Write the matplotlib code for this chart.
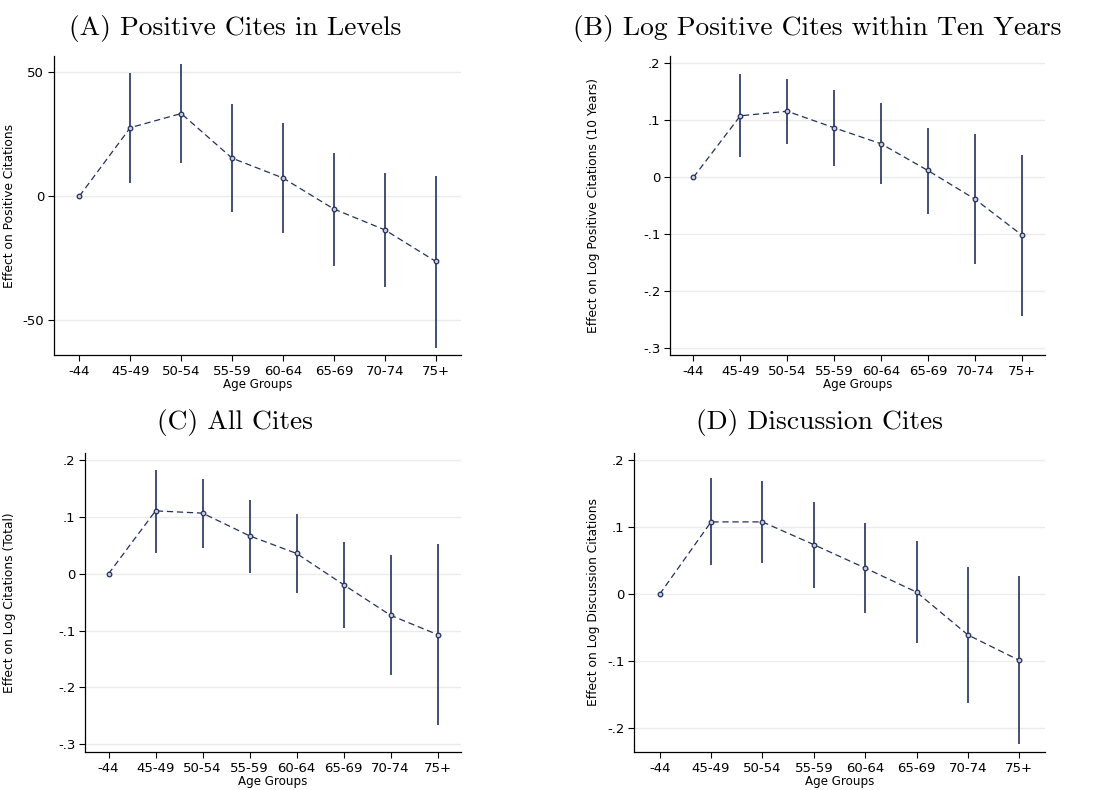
import numpy as np
import matplotlib
matplotlib.use("Agg")
import matplotlib.pyplot as plt

# age groups on the x axis
groups = ["-44", "45-49", "50-54", "55-59", "60-64", "65-69", "70-74", "75+"]

# (A) positive cites in levels: estimate, lower and upper CI
est_a = [0, 27.6, 33.3, 15.3, 7.3, -5.2, -13.6, -26.3]
lo_a = [0, 5.4, 13.4, -6.5, -14.8, -28.1, -36.6, -61.2]
hi_a = [0, 49.5, 53.4, 37.0, 29.4, 17.5, 9.3, 8.3]

# (B) log positive cites within ten years
est_b = [0, 0.108, 0.116, 0.087, 0.059, 0.012, -0.038, -0.101]
lo_b = [0, 0.035, 0.059, 0.019, -0.012, -0.065, -0.153, -0.243]
hi_b = [0, 0.181, 0.173, 0.154, 0.130, 0.087, 0.076, 0.039]

# (C) all cites
est_c = [0, 0.111, 0.107, 0.067, 0.036, -0.019, -0.073, -0.107]
lo_c = [0, 0.0375, 0.046, 0.002, -0.034, -0.095, -0.179, -0.267]
hi_c = [0, 0.183, 0.168, 0.131, 0.106, 0.057, 0.033, 0.053]

# (D) discussion cites
est_d = [0, 0.108, 0.108, 0.074, 0.039, 0.003, -0.061, -0.099]
lo_d = [0, 0.043, 0.047, 0.009, -0.028, -0.073, -0.163, -0.224]
hi_d = [0, 0.174, 0.169, 0.137, 0.106, 0.079, 0.041, 0.027]

ticks_a = [-50, 0, 50]
labels_a = ["-50", "0", "50"]
ticks_log = [-0.3, -0.2, -0.1, 0, 0.1, 0.2]
labels_log = ["-.3", "-.2", "-.1", "0", ".1", ".2"]
ticks_d = [-0.2, -0.1, 0, 0.1, 0.2]
labels_d = ["-.2", "-.1", "0", ".1", ".2"]

W, H = 1094, 790
navy = '#22315f'

fig = plt.figure(figsize=(W / 100, H / 100), dpi=100, facecolor='w')

def add_axes(left, top, right, bottom):
    return fig.add_axes([left / W, 1 - bottom / H, (right - left) / W, (bottom - top) / H])

panels = [
    # title, title x, title y, axes box (px), label x, data, ticks, ylim, ylabel
    ("(A) Positive Cites in Levels", 235, 28, (54, 56, 461, 355), 16,
     (est_a, lo_a, hi_a), (ticks_a, labels_a), (-64.1, 56.5),
     "Effect on Positive Citations"),
    ("(B) Log Positive Cites within Ten Years", 817, 28, (670, 56, 1045, 355), 600,
     (est_b, lo_b, hi_b), (ticks_log, labels_log), (-0.312, 0.213),
     "Effect on Log Positive Citations (10 Years)"),
    ("(C) All Cites", 235, 423, (85, 453, 461, 752), 16,
     (est_c, lo_c, hi_c), (ticks_log, labels_log), (-0.314, 0.213),
     "Effect on Log Citations (Total)"),
    ("(D) Discussion Cites", 819, 423, (634, 453, 1045, 752), 600,
     (est_d, lo_d, hi_d), (ticks_d, labels_d), (-0.236, 0.211),
     "Effect on Log Discussion Citations"),
]

x = np.arange(len(groups))
for title, tx, ty, box, lx, (est, lo, hi), (yt, yl), ylim, ylab in panels:
    ax = add_axes(*box)
    est = np.array(est)
    yerr = [est - np.array(lo), np.array(hi) - est]
    ax.errorbar(x[1:], est[1:], yerr=[yerr[0][1:], yerr[1][1:]], fmt='none',
                ecolor=navy, elinewidth=1.2, capsize=0, zorder=3)
    ax.plot(x, est, ls=(0, (5, 3)), lw=0.9, color=navy, marker='o', ms=3.3,
            mfc='#c9cede', mec=navy, mew=0.9, zorder=4)

    ax.set_xlim(-0.5, 7.5)
    ax.set_ylim(*ylim)
    ax.set_xticks(x)
    ax.set_xticklabels(groups, fontsize=9.5)
    ax.set_yticks(yt)
    ax.set_yticklabels(yl, fontsize=9.5)
    ax.tick_params(direction='out', length=4, width=0.8, pad=3)
    ax.yaxis.grid(True, color='#ebebeb', lw=1)
    ax.set_axisbelow(True)
    for s in ['top', 'right']:
        ax.spines[s].set_visible(False)
    for s in ['left', 'bottom']:
        ax.spines[s].set_linewidth(0.9)

    ax.set_xlabel("Age Groups", fontsize=8.6, labelpad=0)
    ax.set_ylabel(ylab, fontsize=8.8)
    ax.yaxis.set_label_coords(lx / W, 1 - (box[1] + box[3]) / 2 / H,
                              transform=fig.transFigure)

    fig.text(tx / W, 1 - ty / H, title, family='cmr10', fontsize=19.8,
             ha='center', va='center')

plt.savefig('out.png', dpi=100, facecolor='w')
